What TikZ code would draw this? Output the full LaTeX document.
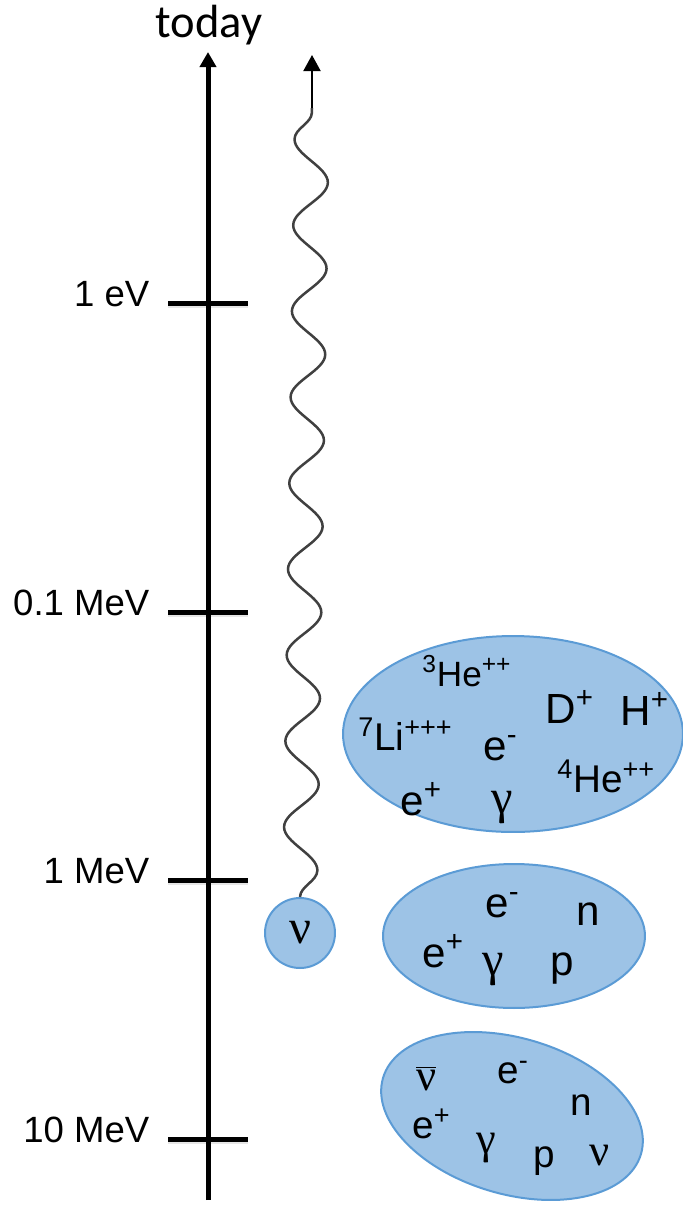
\documentclass[tikz,border=0pt]{standalone}
\usepackage{fontspec}
\setmainfont{Liberation Sans}
\newfontfamily\todayfont{Carlito}
\newfontfamily\greekfont[Scale=1.15]{Liberation Serif}
\usepackage{tikz}
\usetikzlibrary{shapes.geometric,arrows.meta,positioning,decorations.pathmorphing,shadows}
\definecolor{blobfill}{RGB}{157,195,230}
\definecolor{blobline}{RGB}{91,155,213}
\definecolor{wavegray}{RGB}{64,64,64}
\newcommand{\grk}[1]{{\greekfont #1}}
\newcommand{\nubar}{$\overline{\hbox{\greekfont ν}}$}
\newcommand{\fsz}[1]{\fontsize{#1}{#1}\selectfont}

\begin{document}
\begin{tikzpicture}[
    x=0.02cm, y=-0.02cm,
    tickmark/.style={fill=black, inner sep=0pt, minimum width=1.6cm, minimum height=0.1cm,
                     drop shadow={shadow xshift=0cm, shadow yshift=-0.05cm, opacity=0.2}},
    axlabel/.style={inner sep=0pt, font=\fsz{20.8}},
    blob/.style={ellipse, draw=blobline, fill=blobfill, line width=0.04cm, inner sep=0pt},
    ptcl/.style={inner sep=0pt, anchor=base west, font=\fsz{24}},
    axisline/.style={line width=0.1cm, -{Triangle[length=0.3cm, width=0.32cm]}},
    thinarrow/.style={line width=0.04cm, -{Triangle[length=0.32cm, width=0.34cm]}},
    wave/.style={draw=wavegray, line width=0.05cm, decorate,
                 decoration={snake, segment length=1.72cm, amplitude=0.34cm, mirror}}
]
    \useasboundingbox (0,0) rectangle (683,1205);

    % Tick marks
    \node[tickmark] (ev) at (208,303) {};
    \node[tickmark] (tenthmev) at (208,612) {};
    \node[tickmark] (mev) at (208,880) {};
    \node[tickmark] (tenmev) at (208,1139) {};

    % Tick labels
    \node[axlabel, left=0.36cm of ev, yshift=0.18cm] (evlab) {1 eV};
    \node[axlabel, left=0.36cm of tenthmev, yshift=0.18cm] (tenthmevlab) {0.1 MeV};
    \node[axlabel, left=0.36cm of mev, yshift=0.18cm] (mevlab) {1 MeV};
    \node[axlabel, left=0.36cm of tenmev, yshift=0.18cm] (tenmevlab) {10 MeV};

    % Time axis
    \coordinate (axbot) at (208,1200);
    \coordinate (axtop) at (208,52);
    \draw[axisline] (axbot) -- (axtop);
    \node[anchor=base, inner sep=0pt, font=\todayfont\fsz{26.5}] (today) at (209,37) {today};

    % Decoupled neutrinos
    \node[blob, circle, minimum size=1.4cm, font=\greekfont\fsz{24}] (nu) at (300,933) {ν};
    \coordinate (wtop) at (312,108);
    \coordinate (wtip) at (312,55);
    \draw[wave] (nu.north) -- (wtop);
    \draw[thinarrow] (wtop) -- (wtip);

    % Plasma blobs
    \node[blob, minimum width=6.8cm, minimum height=3.92cm] (nucleo) at (513,734) {};
    \node[blob, minimum width=5.24cm, minimum height=2.88cm] (freeze) at (514,936) {};
    \node[blob, minimum width=5.38cm, minimum height=3.12cm, rotate=-16.5] (equil) at (512,1116) {};

    % Nucleosynthesis
    \node[ptcl, font=\fsz{20}] (he3) at (422,686) {\textsuperscript{3}He\textsuperscript{++}};
    \node[ptcl, font=\fsz{22}] (li7) at (358,750) {\textsuperscript{7}Li\textsuperscript{+++}};
    \node[ptcl] (em1) at (483,760) {e\textsuperscript{-}};
    \node[ptcl] (dplus) at (545,723) {D\textsuperscript{+}};
    \node[ptcl] (hplus) at (620,725) {H\textsuperscript{+}};
    \node[ptcl, font=\fsz{22}] (he4) at (557,792) {\textsuperscript{4}He\textsuperscript{++}};
    \node[ptcl] (ep1) at (400,815) {e\textsuperscript{+}};
    \node[ptcl] (gam1) at (491,813) {\grk{γ}};

    % Neutrino decoupling
    \node[ptcl] (em2) at (485,917) {e\textsuperscript{-}};
    \node[ptcl] (n2) at (576,925) {n};
    \node[ptcl] (ep2) at (422,967) {e\textsuperscript{+}};
    \node[ptcl] (gam2) at (482,975) {\grk{γ}};
    \node[ptcl] (p2) at (550,975) {p};

    % Equilibrium
    \node[ptcl, font=\fsz{22}] (nubar3) at (416,1090) {\nubar};
    \node[ptcl, font=\fsz{22}] (em3) at (497,1083) {e\textsuperscript{-}};
    \node[ptcl, font=\fsz{22}] (n3) at (570,1115) {n};
    \node[ptcl, font=\fsz{22}] (ep3) at (412,1138) {e\textsuperscript{+}};
    \node[ptcl, font=\fsz{22}] (gam3) at (476,1153) {\grk{γ}};
    \node[ptcl, font=\fsz{22}] (p3) at (533,1167) {p};
    \node[ptcl, font=\fsz{22}] (nu3) at (589,1165) {\grk{ν}};
\end{tikzpicture}
\end{document}
